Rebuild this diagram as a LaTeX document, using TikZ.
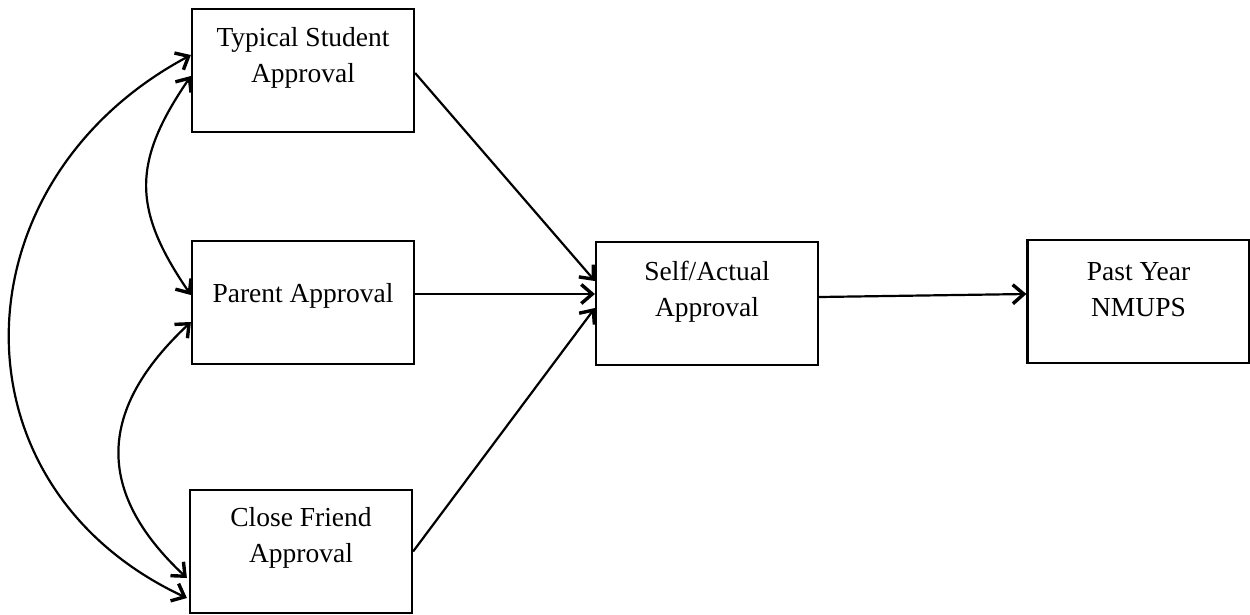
\documentclass[tikz,border=0pt]{standalone}
\usepackage{fontspec}
\setmainfont{Liberation Serif}
\usetikzlibrary{arrows.meta}
\begin{document}
\begin{tikzpicture}[x=1pt,y=-1pt,
  box/.style={draw,line width=2.2pt,minimum width=222pt,minimum height=123pt,inner sep=0pt},
  lbl/.style={align=center,inner sep=0pt,font=\fontsize{27.5}{36}\selectfont},
  conn/.style={line width=2.2pt,-{Straight Barb[length=11pt,width=19pt,line width=3.4pt]}},
  biconn/.style={line width=2.2pt,{Straight Barb[length=11pt,width=19pt,line width=3.4pt]}-{Straight Barb[length=11pt,width=19pt,line width=3.4pt]}}]
\useasboundingbox (0,0) rectangle (1250,614);
\node[box] (ts) at (303,70.5) {};
\node[box] (pa) at (303,302.5) {};
\node[box] (cf) at (301,551.5) {};
\node[box] (sa) at (707,303.5) {};
\node[box] (py) at (1138.5,301.5) {};
\node[lbl] (tst) at (303,57.5) {Typical Student\\Approval};
\node[lbl] (pat) at (303,296) {Parent Approval};
\node[lbl] (cft) at (301,538) {Close Friend\\Approval};
\node[lbl] (sat) at (707,292) {Self/Actual\\Approval};
\node[lbl] (pyt) at (1138.5,290) {Past Year\\NMUPS};
% covariances
\draw[biconn] ([yshift=15.5pt]ts.west) .. controls (-45,181) and (-55,485) .. ([xshift=-2pt,yshift=-46.5pt]cf.west);
\draw[biconn] ([yshift=-5.5pt]ts.west) .. controls (132,162) and (132,209) .. ([yshift=7.5pt]pa.west);
\draw[biconn] ([yshift=-19.5pt]pa.west) .. controls (98,409) and (94,491) .. ([xshift=-2pt,yshift=-26.5pt]cf.west);
% paths
\draw[conn] ([yshift=-2.5pt]ts.east) -- ([yshift=22.5pt]sa.west);
\draw[conn] ([yshift=8.5pt]pa.east) -- ([yshift=9.5pt]sa.west);
\draw[conn] (cf.east) -- ([yshift=-4.5pt]sa.west);
\draw[conn] ([yshift=6.5pt]sa.east) -- ([yshift=7.5pt]py.west);
\end{tikzpicture}
\end{document}
